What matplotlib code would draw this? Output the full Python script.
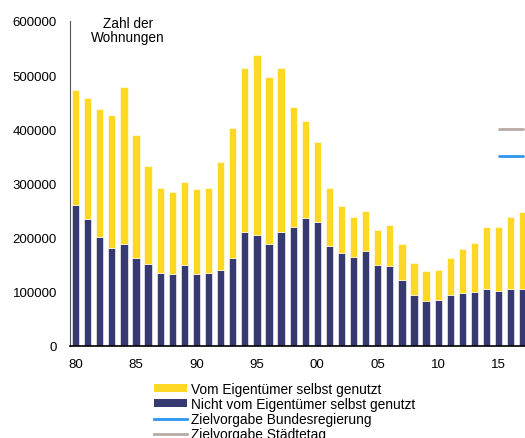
import numpy as np
import matplotlib.pyplot as plt
from matplotlib.lines import Line2D
from matplotlib.patches import Patch

plt.rcParams['font.family'] = ['Liberation Sans', 'DejaVu Sans']

years = np.arange(1980, 2018)
# total completions and the part not used by the owner
total = [473000, 458000, 437000, 427000, 479000, 390000, 332000, 292000, 284000, 302000,
         289000, 291000, 340000, 403000, 513000, 538000, 497000, 514000, 442000, 415000,
         376000, 291000, 258000, 239000, 250000, 215000, 223000, 188000, 154000, 138000,
         141000, 163000, 179000, 191000, 219000, 219000, 239000, 247000]
fremd = [260000, 234000, 201000, 180000, 189000, 163000, 151000, 135000, 133000, 150000,
         133000, 135000, 141000, 162000, 211000, 204000, 188000, 210000, 219000, 236000,
         228000, 184000, 172000, 164000, 175000, 150000, 148000, 122000, 95000, 82500,
         84000, 95000, 98000, 100000, 105000, 101500, 105000, 105000]
eigen = [t - f for t, f in zip(total, fremd)]

ziel_years = [2015, 2016, 2017]
ziel_bund = [350000, 350000, 350000]
ziel_staedtetag = [400000, 400000, 400000]

tick_years = [1980, 1985, 1990, 1995, 2000, 2005, 2010, 2015]
tick_labels = ['80', '85', '90', '95', '00', '05', '10', '15']

yellow = '#FFD826'
navy = '#363A70'
blue = '#2E96F0'
grey = '#B8ABA3'

fig = plt.figure(figsize=(5.25, 4.39), dpi=100)
ax = fig.add_axes([0.1324, 0.2096, 0.8676, 0.7403])

ax.bar(years, fremd, width=0.6, color=navy, edgecolor='white', linewidth=0.4)
ax.bar(years, eigen, width=0.6, bottom=fremd, color=yellow, edgecolor='white', linewidth=0.4)
ax.plot(ziel_years, ziel_staedtetag, color=grey, lw=2, solid_capstyle='round')
ax.plot(ziel_years, ziel_bund, color=blue, lw=2, solid_capstyle='round')

ax.set_xlim(1979.5, 2017.18)
ax.set_ylim(0, 600000)
ax.set_yticks(range(0, 600001, 100000))
ax.set_yticklabels([str(v) for v in range(0, 600001, 100000)])
ax.set_xticks(tick_years)
ax.set_xticklabels(tick_labels)
ax.tick_params(axis='both', length=0, labelsize=9.5, colors='black')
ax.tick_params(axis='x', pad=9)
ax.tick_params(axis='y', pad=9)
for s in ['top', 'right']:
    ax.spines[s].set_visible(False)
ax.spines['left'].set_color('#555555')
ax.spines['bottom'].set_color('black')
ax.spines['bottom'].set_linewidth(1.2)

fig.text(0.244, 0.962, 'Zahl der\nWohnungen', ha='center', va='top', fontsize=9.8, linespacing=1.05)

handles = [Patch(facecolor=yellow), Patch(facecolor=navy),
           Line2D([], [], color=blue, lw=2), Line2D([], [], color=grey, lw=2)]
labels = ['Vom Eigentümer selbst genutzt', 'Nicht vom Eigentümer selbst genutzt',
          'Zielvorgabe Bundesregierung', 'Zielvorgabe Städtetag']
fig.legend(handles, labels, loc='upper left', bbox_to_anchor=(0.293, 0.128), frameon=False,
           fontsize=9.9, handlelength=2.4, handleheight=0.5, handletextpad=0.3,
           labelspacing=0.08, borderpad=0, borderaxespad=0)

fig.savefig('out.png', dpi=100)
